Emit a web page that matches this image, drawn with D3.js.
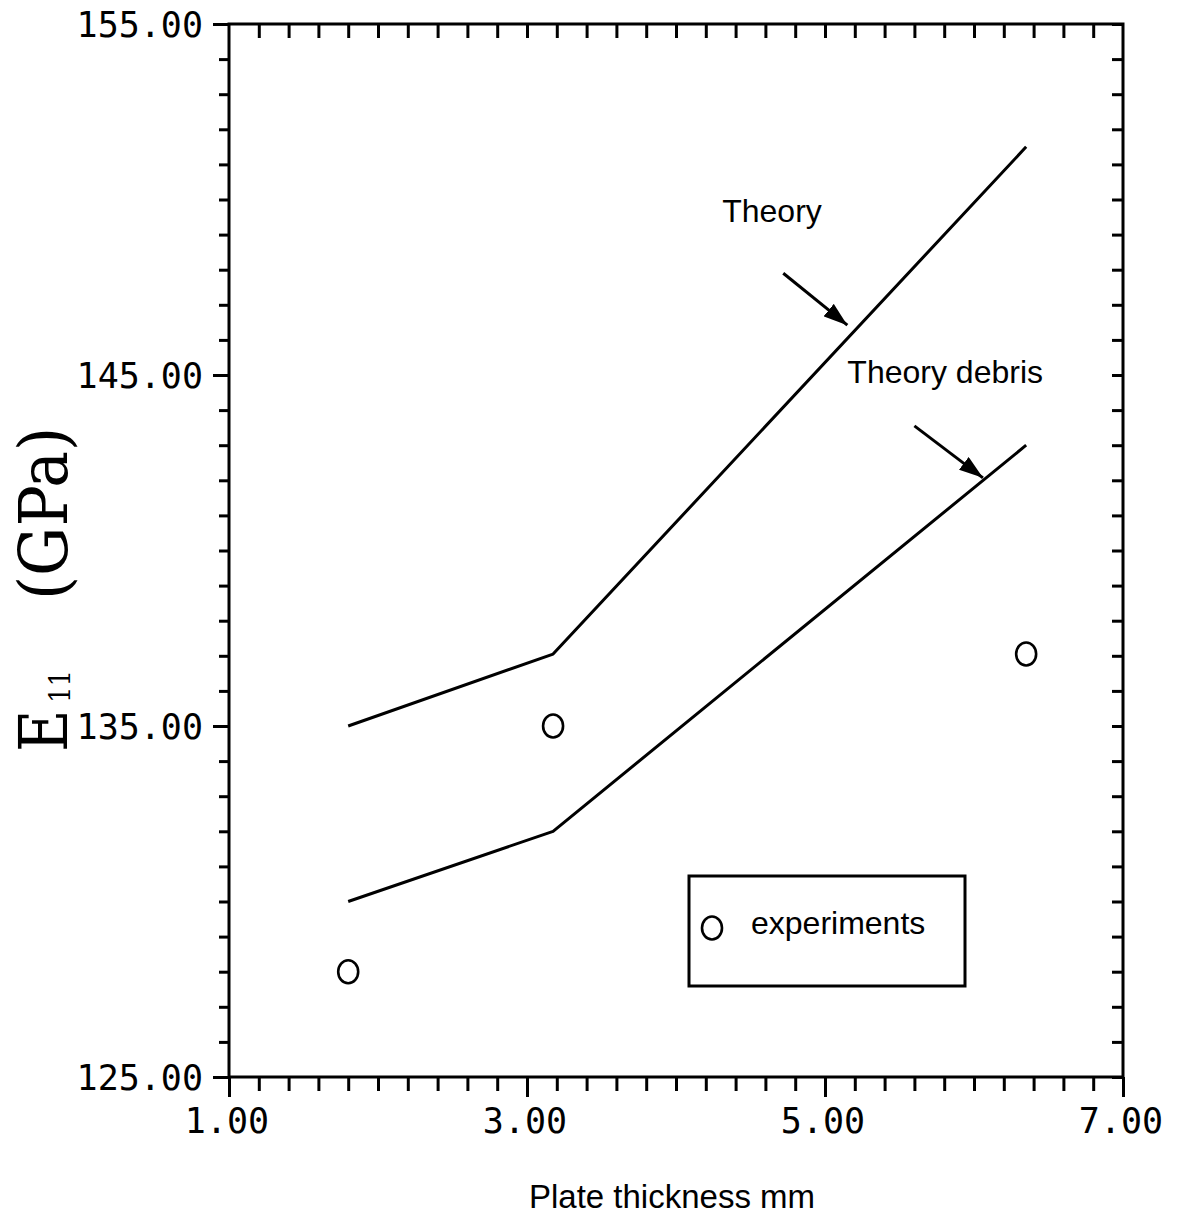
<!DOCTYPE html>
<html>
<head>
<meta charset="utf-8">
<script src="https://cdn.jsdelivr.net/npm/d3@7/dist/d3.min.js"></script>
<style>
  html, body { margin: 0; padding: 0; background: #fff; }
  svg { display: block; }
</style>
</head>
<body>
<svg id="chart" width="1180" height="1224"></svg>
<script>
// Plate thickness (mm) at which the models were evaluated
const thickness = [1.8, 3.175, 6.35];
// Longitudinal modulus E11 (GPa)
const theory = [135.0, 137.05, 151.5];
const theoryDebris = [130.0, 132.0, 143.0];
// Measured points
const expThickness = [1.8, 3.175, 6.35];
const experiments = [128.0, 135.0, 137.05];

// Axis ticks
const xMajor = [1, 3, 5, 7];
const xTickLabels = ["1.00", "3.00", "5.00", "7.00"];
const yMajor = [125, 135, 145, 155];
const yTickLabels = ["125.00", "135.00", "145.00", "155.00"];
const xMinorStep = 0.2;
const yMinorStep = 1;

// Annotation text and arrows (data coordinates)
const labelNames = ["Theory", "Theory debris"];
const labelX = [4.31, 5.15];
const labelY = [149.36, 144.77];
const arrowFrom = [[4.72, 147.9], [5.60, 143.55]];
const arrowTo = [[5.15, 146.42], [6.06, 142.07]];

const svg = d3.select("#chart");
svg.append("rect").attr("width", 1180).attr("height", 1224).attr("fill", "#fff");

const x = d3.scaleLinear().domain([1, 7]).range([229, 1123]);
const y = d3.scaleLinear().domain([125, 155]).range([1077, 24]);

const ink = "#000";
const tickFont = "'DejaVu Sans Mono', 'Liberation Mono', monospace";
const sansFont = "'Liberation Sans', Arial, Helvetica, sans-serif";
const serifFont = "'DejaVu Serif', 'Liberation Serif', serif";

const xMinor = d3.range(1, 7.0001, xMinorStep).map(v => +v.toFixed(2));
const yMinor = d3.range(125, 155.0001, yMinorStep);

function styleAxis(g) {
  g.select(".domain").remove();
  g.selectAll(".tick line").attr("stroke", ink).attr("stroke-width", 3);
  g.selectAll(".tick text").remove();
}

// Left axis: outward ticks
svg.append("g").attr("transform", `translate(${x(1)},0)`)
  .call(d3.axisLeft(y).tickValues(yMinor).tickSize(10)).call(styleAxis);
svg.append("g").attr("transform", `translate(${x(1)},0)`)
  .call(d3.axisLeft(y).tickValues(yMajor).tickSize(16)).call(styleAxis);
// Right axis: inward ticks
svg.append("g").attr("transform", `translate(${x(7)},0)`)
  .call(d3.axisLeft(y).tickValues(yMinor).tickSize(11)).call(styleAxis);
// Bottom axis: outward ticks
svg.append("g").attr("transform", `translate(0,${y(125)})`)
  .call(d3.axisBottom(x).tickValues(xMinor).tickSize(14)).call(styleAxis);
svg.append("g").attr("transform", `translate(0,${y(125)})`)
  .call(d3.axisBottom(x).tickValues(xMajor).tickSize(20)).call(styleAxis);
// Top axis: inward ticks
svg.append("g").attr("transform", `translate(0,${y(155)})`)
  .call(d3.axisBottom(x).tickValues(xMinor.filter(v => v > 1 && v < 7)).tickSize(14)).call(styleAxis);

// Frame
svg.append("rect")
  .attr("x", x(1)).attr("y", y(155))
  .attr("width", x(7) - x(1)).attr("height", y(125) - y(155))
  .attr("fill", "none").attr("stroke", ink).attr("stroke-width", 3);

// Tick labels
svg.append("g").selectAll("text").data(xMajor).join("text")
  .attr("x", d => x(d) - 2).attr("y", y(125) + 56)
  .attr("text-anchor", "middle")
  .attr("font-family", tickFont).attr("font-size", 35)
  .text((d, i) => xTickLabels[i]);
svg.append("g").selectAll("text").data(yMajor).join("text")
  .attr("x", 203).attr("y", d => y(d) + 13)
  .attr("text-anchor", "end")
  .attr("font-family", tickFont).attr("font-size", 35)
  .text((d, i) => yTickLabels[i]);

// Axis titles
svg.append("text")
  .attr("x", 672).attr("y", 1208)
  .attr("text-anchor", "middle")
  .attr("font-family", sansFont).attr("font-size", 33)
  .text("Plate thickness mm");

const yTitle = svg.append("g").attr("transform", "translate(67,0) rotate(-90) scale(1,1.15)");
yTitle.append("text").attr("x", -752).attr("y", 0)
  .attr("font-family", serifFont).attr("font-size", 58)
  .text("E");
yTitle.append("text").attr("x", -703).attr("y", 3)
  .attr("font-family", serifFont).attr("font-size", 26)
  .text("11");
yTitle.append("text").attr("x", -600).attr("y", 0)
  .attr("font-family", serifFont).attr("font-size", 58)
  .attr("textLength", 173).attr("lengthAdjust", "spacingAndGlyphs")
  .text("(GPa)");

// Model curves
const line = d3.line().x(d => x(d[0])).y(d => y(d[1]));
[theory, theoryDebris].forEach(series => {
  svg.append("path")
    .datum(thickness.map((t, i) => [t, series[i]]))
    .attr("d", line)
    .attr("fill", "none").attr("stroke", ink).attr("stroke-width", 3)
    .attr("stroke-linejoin", "round");
});

// Experimental points
svg.append("g").selectAll("ellipse").data(experiments).join("ellipse")
  .attr("cx", (d, i) => x(expThickness[i])).attr("cy", d => y(d))
  .attr("rx", 10).attr("ry", 11.5)
  .attr("fill", "none").attr("stroke", ink).attr("stroke-width", 2.6);

// Annotations
svg.append("defs").append("marker")
  .attr("id", "head").attr("markerUnits", "userSpaceOnUse")
  .attr("viewBox", "0 0 24 16").attr("refX", 24).attr("refY", 8)
  .attr("markerWidth", 24).attr("markerHeight", 16).attr("orient", "auto")
  .append("path").attr("d", "M0,0 L24,8 L0,16 Z").attr("fill", ink);

labelNames.forEach((name, i) => {
  svg.append("text")
    .attr("x", x(labelX[i])).attr("y", y(labelY[i]))
    .attr("font-family", sansFont).attr("font-size", 32)
    .text(name);
  svg.append("line")
    .attr("x1", x(arrowFrom[i][0])).attr("y1", y(arrowFrom[i][1]))
    .attr("x2", x(arrowTo[i][0])).attr("y2", y(arrowTo[i][1]))
    .attr("stroke", ink).attr("stroke-width", 3)
    .attr("marker-end", "url(#head)");
});

// Legend
const legend = svg.append("g");
legend.append("rect")
  .attr("x", 689).attr("y", 876).attr("width", 276).attr("height", 110)
  .attr("fill", "#fff").attr("stroke", ink).attr("stroke-width", 3);
legend.append("ellipse")
  .attr("cx", 712).attr("cy", 928).attr("rx", 10).attr("ry", 11.5)
  .attr("fill", "none").attr("stroke", ink).attr("stroke-width", 2.6);
legend.append("text")
  .attr("x", 751).attr("y", 934)
  .attr("font-family", sansFont).attr("font-size", 32)
  .text("experiments");
</script>
</body>
</html>
